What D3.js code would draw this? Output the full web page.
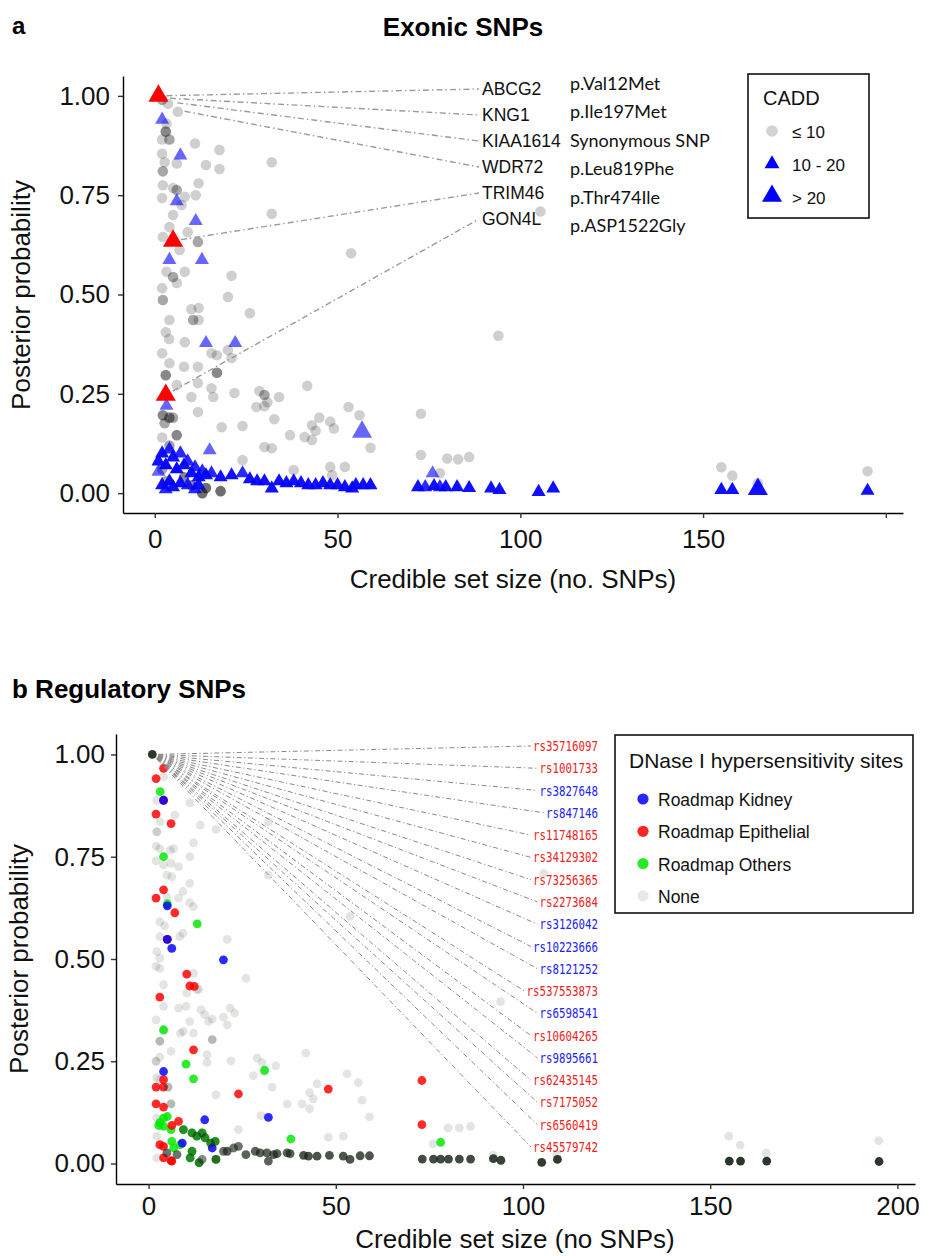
<!DOCTYPE html>
<html>
<head>
<meta charset="utf-8">
<script src="https://cdn.jsdelivr.net/npm/d3@7"></script>
<style>
body { margin: 0; background: #fff; }
text { font-family: "Liberation Sans", Arial, sans-serif; }
</style>
</head>
<body>
<svg width="929" height="1256"></svg>
<script>
// ---- panel a : exonic SNPs   [credible set size, posterior probability, overlapping SNPs]
var caddLow = [
  [3.6,0.98,1],[6.3,0.96,1],[2,0.99,2],[3.2,0.93,1],[3,0.91,3],[4,0.89,2],[2,0.89,1],[11,0.88,1],[17.7,0.864,1],
  [2,0.854,1],[2.7,0.833,1],[6,0.83,1],[14,0.826,1],[17.7,0.816,1],[32,0.833,1],[2.2,0.81,2],[12,0.78,1],
  [2.2,0.775,1],[5,0.768,1],[6,0.763,2],[11.2,0.75,1],[2,0.743,1],[8.2,0.746,1],[7.3,0.725,1],[5,0.70,1],
  [32,0.703,1],[4,0.67,1],[9,0.657,1],[2.2,0.645,1],[6.8,0.612,1],[11.8,0.632,2],[3.2,0.557,1],[8.2,0.557,1],
  [5,0.544,2],[6,0.529,1],[21,0.547,1],[20,0.494,1],[2,0.516,1],[2.2,0.486,2],[26,0.453,1],[10,0.463,1],
  [12,0.466,1],[10.5,0.436,2],[12,0.436,1],[4,0.436,1],[3,0.405,1],[8.2,0.38,1],[3.9,0.388,1],[53.7,0.604,1],
  [105.5,0.709,1],[94,0.396,1],
  [15.5,0.352,1],[17,0.347,1],[20,0.36,1],[2,0.352,1],[4,0.327,1],[8,0.318,1],[11.8,0.318,1],[21,0.34,1],
  [17,0.303,3],[3,0.297,3],[6,0.272,1],[11.8,0.277,1],[15.5,0.264,1],[16,0.242,1],[21.8,0.252,1],[10,0.242,1],
  [41.7,0.27,1],[28.6,0.257,1],[30,0.247,2],[30.8,0.229,1],[34,0.242,1],[27.8,0.217,1],[30,0.219,1],
  [2.2,0.196,3],[4,0.19,3],[5,0.19,2],[2.7,0.176,2],[11.8,0.204,1],[18.3,0.166,1],[24,0.169,1],[32.7,0.186,1],
  [37,0.146,1],[41,0.141,1],[43,0.134,1],[45,0.19,1],[48,0.18,1],[49,0.163,1],[53,0.217,1],[56,0.196,1],
  [43,0.171,1],[44,0.157,1],[59,0.114,1],[30,0.116,1],[32,0.113,1],[72.8,0.20,1],[72.8,0.096,1],[6,0.146,3],
  [2,0.14,1],[4,0.12,2],[24,0.083,1],[38,0.058,1],[48,0.066,1],[52,0.066,1],[48.5,0.045,1],[78,0.05,1],
  [80,0.087,1],[83,0.085,1],[86,0.091,1],[155,0.065,1],[158,0.044,1],[165,0.025,1],[195,0.055,1],
  [13,0.0,4],[14,0.013,4],[18,0.005,4],[2,0.06,2],[3,0.03,2],[8,0.04,3],[10,0.02,3]
];
var caddMid = [
  [2,0.94,1],[7,0.85,1],[6,0.735,1],[11.2,0.685,1],[4,0.587,1],[12.9,0.587,1],[14,0.378,1],[22,0.378,1],
  [3.2,0.22,1],[15,0.108,1],[76,0.05,1],[1,0.054,1],
  [1,0.08,3],[2,0.1,3],[3,0.07,4],[4,0.11,2],[5,0.09,3],[6,0.06,4],[7,0.1,2],[8,0.07,3],[9,0.08,2],[10,0.05,3],
  [11,0.065,2],[12,0.04,3],[13,0.055,2],[14,0.045,3],[2,0.02,3],[3,0.01,2],[4,0.03,3],[5,0.015,3],[7,0.025,3],
  [9,0.02,2],[11,0.01,2],[12,0.02,3],
  [15.5,0.05,2],[18,0.04,3],[21,0.045,3],[24,0.05,2],[26,0.035,3],[28,0.03,3],[30,0.03,3],[32,0.012,3],
  [34,0.03,3],[36,0.025,3],[38,0.03,3],[40,0.025,3],[42,0.02,3],[44,0.02,3],[46,0.025,3],[48,0.02,3],
  [50,0.02,3],[52,0.015,3],[54,0.012,3],[55,0.02,3],[57,0.02,3],[59,0.02,3],[72,0.015,3],[74,0.015,2],
  [76.4,0.018,3],[78,0.015,2],[79.6,0.015,3],[82.7,0.015,3],[86,0.013,3],[92,0.012,3],[94.3,0.008,3],
  [105,0.003,3],[109,0.012,3],[155,0.008,3],[158,0.008,3],[195,0.006,3]
];
var caddHigh = [[56.7,0.154,1],[165,0.01,3]];
var exonicHits = [[1,1.0],[5,0.635],[3,0.247]];

var exonicGenes = ["ABCG2","KNG1","KIAA1614","WDR72","TRIM46","GON4L"];
var exonicEffects = ["p.Val12Met","p.Ile197Met","Synonymous SNP","p.Leu819Phe","p.Thr474Ile","p.ASP1522Gly"];
var exonicSize = [1,2,4,6,5,3];
var exonicPP = [1.0,0.995,0.985,0.965,0.635,0.247];

var caddLegend = ["\u2264 10","10 - 20","> 20"];

// ---- panel b : regulatory SNPs
var dhsNone = [
  [4,0.945,1],[2.2,0.888,1],[11,0.882,1],[3.1,0.835,1],[7,0.852,1],[2.2,0.811,2],[13.8,0.827,1],[18,0.817,1],
  [32,0.835,1],[2,0.776,1],[3,0.77,1],[5.8,0.766,1],[6.7,0.77,1],[12,0.784,1],[2,0.74,1],[4,0.73,1],[6,0.734,1],
  [8,0.726,1],[11,0.75,1],[4.9,0.705,1],[6.2,0.701,1],[32,0.705,1],[11,0.685,1],[4.9,0.652,1],[9.2,0.665,1],
  [8,0.649,1],[11,0.638,1],[12,0.628,1],[3,0.591,1],[4.3,0.581,1],[9.2,0.563,1],[8.3,0.555,1],[3,0.555,1],
  [21,0.548,1],[2.2,0.518,1],[3,0.502,1],[26,0.453,1],[2,0.482,1],[3,0.477,1],[12,0.465,1],[13.4,0.426,1],
  [4,0.437,1],[10.2,0.417,1],[12.9,0.425,1],[53.8,0.604,1],[94,0.396,1],[105.5,0.709,1],
  [4,0.384,1],[8,0.38,1],[10,0.384,1],[14,0.376,1],[15,0.364,1],[17,0.353,1],[16,0.347,1],[20,0.358,1],
  [21.8,0.38,1],[23,0.368,1],[21,0.339,1],[2,0.351,1],[4,0.323,1],[8.5,0.319,1],[9.3,0.323,1],[12,0.319,1],
  [11,0.347,1],[3,0.299,3],[17,0.303,3],[6,0.274,1],[3,0.26,1],[2,0.25,2],[15.6,0.266,1],[15.6,0.247,1],
  [22,0.251,1],[42,0.27,1],[29,0.258,1],[30.3,0.247,1],[34,0.239,1],[28,0.215,1],[30.8,0.225,1],[18,0.168,1],
  [45,0.195,1],[43,0.173,1],[44,0.158,1],[41,0.146,1],[43,0.134,1],[37,0.146,1],[53,0.219,1],[56,0.198,1],
  [57,0.155,1],[59,0.114,1],[33,0.187,1],[30,0.117,1],[24,0.083,1],[48,0.064,1],[52,0.067,1],[80,0.087,1],
  [83,0.087,1],[86,0.091,1],[76,0.048,1],[155,0.067,1],[158,0.045,1],[165,0.026,1],[195,0.056,1],
  [109,0.022,1],[92,0.02,1],[2.2,0.111,1],[2.2,0.067,1],[2.2,0.014,1],[2.2,0.21,1],[3,0.205,1]
];
var dhsKidney = [
  [4,0.888,1],[5,0.63,1],[5,0.548,1],[6.2,0.526,1],[20,0.498,1],[4,0.225,1],[15,0.107,1],[32,0.113,1],
  [17,0.038,1],[9,0.05,1]
];
var dhsEpithelial = [
  [4,0.966,1],[2,0.941,1],[4,0.888,1],[2,0.854,1],[6,0.831,1],[4,0.669,1],[2,0.649,1],[7,0.613,1],[5,0.548,1],
  [10.2,0.463,1],[11,0.434,1],[12.2,0.433,1],[3,0.407,1],[12,0.278,1],[24,0.17,1],[48,0.182,1],[73,0.203,1],
  [73,0.095,1],[2,0.187,1],[4,0.205,1],[4,0.187,1],[2,0.146,1],[4,0.138,1],[8,0.103,1],[6.2,0.093,1],
  [3,0.046,1],[4,0.042,1],[4,0.014,1],[6.2,0.006,1],[6,0.007,1]
];
var dhsOthers = [
  [3.1,0.909,1],[4,0.75,1],[5,0.635,1],[13,0.586,1],[4,0.327,1],[31,0.228,1],[10,0.243,1],[12,0.207,1],
  [38,0.06,1],[78,0.052,1],[3,0.1,1],[4,0.111,1],[5,0.115,1],[6,0.083,1],[4,0.091,1],[2.7,0.093,1],
  [6.2,0.054,1],[6.7,0.038,1],[8.5,0.046,1],[9.3,0.083,1],[11.6,0.075,1],[12.9,0.067,1],[14.3,0.075,1],
  [15.1,0.063,1],[16.6,0.05,1],[17.8,0.054,1],[11.6,0.03,1],[11.1,0.014,1],[13.5,0.002,1],[18,0.01,1]
];
// many SNPs of one credible set sitting on top of each other
var dhsStack = [
  [1,1.0,19],[5.2,0.187,3],[6,0.146,3],[4.9,0.026,8],[7.6,0.022,8],[9.3,0.083,5],[11.6,0.075,5],[12.9,0.067,5],
  [14.3,0.075,5],[15.1,0.063,5],[16.6,0.05,5],[17.8,0.054,5],[11.6,0.03,5],[11.1,0.014,5],[13.5,0.002,6],
  [14.3,0.01,6],[18,0.01,8],[20,0.03,8],[21,0.03,10],[22.7,0.038,8],[24,0.042,8],[26,0.022,10],[28.5,0.03,10],
  [29.8,0.026,10],[31.6,0.026,10],[32,0.006,10],[33.4,0.022,10],[34.3,0.024,10],[37,0.026,10],[37.8,0.024,10],
  [41.4,0.02,12],[42.7,0.018,12],[45,0.018,12],[48.3,0.02,12],[52,0.018,12],[53.8,0.01,12],[56.5,0.019,12],
  [59,0.019,12],[73.1,0.011,14],[76.1,0.011,14],[78,0.011,14],[80.1,0.011,14],[83,0.011,14],[86,0.011,14],
  [92.1,0.012,16],[94.1,0.008,16],[105,0.003,18],[109.2,0.01,18],[155.1,0.006,20],[158.1,0.006,20],
  [165.1,0.006,20],[195.1,0.005,20]
];

var regSnps = ["rs35716097","rs1001733","rs3827648","rs847146","rs11748165","rs34129302","rs73256365",
  "rs2273684","rs3126042","rs10223666","rs8121252","rs537553873","rs6598541","rs10604265","rs9895661",
  "rs62435145","rs7175052","rs6560419","rs45579742"];
var regTissue = ["Epithelial","Epithelial","Kidney","Kidney","Epithelial","Epithelial","Epithelial",
  "Epithelial","Kidney","Kidney","Kidney","Epithelial","Kidney","Epithelial","Kidney",
  "Epithelial","Epithelial","Epithelial","Epithelial"];
var dhsLegend = ["Roadmap Kidney","Roadmap Epithelial","Roadmap Others","None"];

var yTicks = [0, 0.25, 0.5, 0.75, 1];
var xTicks = [0, 50, 100, 150, 200];


var svg = d3.select("svg");

var tissueColor = {Kidney: "#0000ff", Epithelial: "#ff0000", Others: "#00e600", None: "#1a261a"};

function stackOpacity(a, n) { return 1 - Math.pow(1 - a, n); }

var xA = d3.scaleLinear().domain([-8.7, 204.7]).range([123, 903]);
var yA = d3.scaleLinear().domain([-0.05, 1.05]).range([513, 76]);
var xB = d3.scaleLinear().domain([-8.7, 204.7]).range([116, 915]);
var yB = d3.scaleLinear().domain([-0.05, 1.05]).range([1184, 734]);

function drawAxes(x, y, yPad, xPad, xFormat) {
  var gy = svg.append("g").attr("transform", "translate(" + x.range()[0] + ",0)")
    .call(d3.axisLeft(y).tickValues(yTicks).tickFormat(d3.format(".2f")).tickSize(5).tickSizeOuter(0).tickPadding(yPad));
  var gx = svg.append("g").attr("transform", "translate(0," + y.range()[0] + ")")
    .call(d3.axisBottom(x).tickValues(xTicks).tickFormat(xFormat).tickSize(5).tickSizeOuter(0).tickPadding(xPad));
  [gy, gx].forEach(function(g) {
    g.select(".domain").attr("stroke", "#000").attr("stroke-width", 1.4);
    g.selectAll(".tick line").attr("stroke", "#333").attr("stroke-width", 1.4);
    g.selectAll(".tick text").attr("fill", "#111").style("font-size", "26px")
      .style("font-family", "'Liberation Sans', Arial, sans-serif");
  });
}

// ================= panel a =================
svg.append("text").attr("x", 12).attr("y", 34).style("font-size", "24px").style("font-weight", "bold").text("a");
svg.append("text").attr("x", 463).attr("y", 36).attr("text-anchor", "middle")
  .style("font-size", "26px").style("font-weight", "bold").text("Exonic SNPs");

drawAxes(xA, yA, 8, 12, function(d) { return d == 200 ? "" : d; });

svg.append("text").attr("transform", "translate(30,295) rotate(-90)").attr("text-anchor", "middle")
  .style("font-size", "26px").attr("fill", "#111").text("Posterior probability");
svg.append("text").attr("x", 513).attr("y", 588).attr("text-anchor", "middle")
  .style("font-size", "26px").attr("fill", "#111").text("Credible set size (no. SNPs)");

var triSmall = d3.symbol().type(d3.symbolTriangle).size(85);
var triBig = d3.symbol().type(d3.symbolTriangle).size(175);

svg.append("g").selectAll("circle")
  .data(caddLow)
  .enter().append("circle")
    .attr("cx", function(d) { return xA(d[0]); })
    .attr("cy", function(d) { return yA(d[1]); })
    .attr("r", 5.3)
    .attr("fill", "#000")
    .attr("fill-opacity", function(d) { return stackOpacity(0.19, d[2]); });

svg.append("g").selectAll("path")
  .data(caddMid)
  .enter().append("path")
    .attr("d", triSmall)
    .attr("transform", function(d) { return "translate(" + xA(d[0]) + "," + yA(d[1]) + ")"; })
    .attr("fill", "#0000ff")
    .attr("fill-opacity", function(d) { return stackOpacity(0.6, d[2]); });

svg.append("g").selectAll("path")
  .data(caddHigh)
  .enter().append("path")
    .attr("d", triBig)
    .attr("transform", function(d) { return "translate(" + xA(d[0]) + "," + yA(d[1]) + ")"; })
    .attr("fill", "#0000ff")
    .attr("fill-opacity", function(d) { return stackOpacity(0.6, d[2]); });

svg.append("g").selectAll("path")
  .data(exonicHits)
  .enter().append("path")
    .attr("d", triBig)
    .attr("transform", function(d) { return "translate(" + xA(d[0]) + "," + yA(d[1]) + ")"; })
    .attr("fill", "#ff0000");

// gene labels with their connector lines
var geneY = d3.scaleLinear().domain([0, 5]).range([95, 225]);
var effectY = d3.scaleLinear().domain([0, 5]).range([90, 232]);

var labA = svg.append("g");
exonicGenes.forEach(function(g, i) {
  var x0 = xA(exonicSize[i]), y0 = yA(exonicPP[i]);
  var x1 = 479, y1 = geneY(i) - 6;
  var len = Math.sqrt((x1 - x0) * (x1 - x0) + (y1 - y0) * (y1 - y0));
  labA.append("line")
    .attr("x1", x0 + (x1 - x0) * 8 / len).attr("y1", y0 + (y1 - y0) * 8 / len)
    .attr("x2", x1).attr("y2", y1)
    .attr("stroke", "#9a9a9a").attr("stroke-width", 1.4)
    .attr("stroke-dasharray", "6,3,1.5,3");
  labA.append("text").attr("x", 482).attr("y", geneY(i))
    .style("font-size", "17.5px").attr("fill", "#111").text(g);
  labA.append("text").attr("x", 570).attr("y", effectY(i))
    .style("font-size", "18px").style("font-family", "Lato, 'Open Sans', sans-serif")
    .attr("fill", "#111").text(exonicEffects[i]);
});

// CADD legend
var legA = svg.append("g");
legA.append("rect").attr("x", 748).attr("y", 74).attr("width", 121).attr("height", 144)
  .attr("fill", "#fff").attr("stroke", "#111").attr("stroke-width", 1.6);
legA.append("text").attr("x", 763).attr("y", 105).style("font-size", "20px").attr("fill", "#111").text("CADD");
legA.append("circle").attr("cx", 772).attr("cy", 131).attr("r", 5.8).attr("fill", "#d3d3d3");
legA.append("path").attr("d", d3.symbol().type(d3.symbolTriangle).size(97))
  .attr("transform", "translate(772,164)").attr("fill", "#0000ff");
legA.append("path").attr("d", triBig).attr("transform", "translate(772,196)").attr("fill", "#0000ff");
legA.selectAll("text.item")
  .data(caddLegend)
  .enter().append("text")
    .attr("class", "item")
    .attr("x", 792)
    .attr("y", function(d, i) { return 138 + i * 33; })
    .style("font-size", "17px").attr("fill", "#111")
    .text(function(d) { return d; });

// ================= panel b =================
svg.append("text").attr("x", 12).attr("y", 698).style("font-size", "26px").style("font-weight", "bold")
  .text("b Regulatory SNPs");

drawAxes(xB, yB, 6, 8, function(d) { return d; });

svg.append("text").attr("transform", "translate(28,959) rotate(-90)").attr("text-anchor", "middle")
  .style("font-size", "26px").attr("fill", "#111").text("Posterior probability");
svg.append("text").attr("x", 515).attr("y", 1248).attr("text-anchor", "middle")
  .style("font-size", "26px").attr("fill", "#111").text("Credible set size (no SNPs)");

function dots(data, color, alpha) {
  svg.append("g").selectAll("circle")
    .data(data)
    .enter().append("circle")
      .attr("cx", function(d) { return xB(d[0]); })
      .attr("cy", function(d) { return yB(d[1]); })
      .attr("r", 4.4)
      .attr("fill", color)
      .attr("fill-opacity", function(d) { return stackOpacity(alpha, d[2]); });
}
dots(dhsNone, tissueColor.None, 0.12);
dots(dhsOthers, tissueColor.Others, 0.82);
dots(dhsEpithelial, tissueColor.Epithelial, 0.83);
dots(dhsKidney, tissueColor.Kidney, 0.83);
dots(dhsStack, tissueColor.None, 0.12);

// rs labels fanning out from the top left corner
var rsY = d3.scaleLinear().domain([0, regSnps.length - 1]).range([746, 1147]);
var labB = svg.append("g");
regSnps.forEach(function(s, i) {
  var w = s.length * 6.5;
  var x0 = xB(1), y0 = yB(1);
  var x1 = 598 - w - 2, y1 = rsY(i);
  var len = Math.sqrt((x1 - x0) * (x1 - x0) + (y1 - y0) * (y1 - y0));
  labB.append("line")
    .attr("x1", x0 + (x1 - x0) * 6 / len).attr("y1", y0 + (y1 - y0) * 6 / len)
    .attr("x2", x1).attr("y2", y1)
    .attr("stroke", "#8a8a8a").attr("stroke-width", 1)
    .attr("stroke-dasharray", "5,2.5,1.2,2.5");
  labB.append("text").attr("x", 598).attr("y", y1 + 5).attr("text-anchor", "end")
    .attr("textLength", w).attr("lengthAdjust", "spacingAndGlyphs")
    .style("font-family", "'DejaVu Sans Mono', monospace").style("font-size", "14px")
    .attr("fill", regTissue[i] == "Kidney" ? "#2222ee" : "#ee2222")
    .text(s);
});

// DHS legend
var legB = svg.append("g");
legB.append("rect").attr("x", 615).attr("y", 735).attr("width", 298).attr("height", 178)
  .attr("fill", "#fff").attr("stroke", "#111").attr("stroke-width", 1.6);
legB.append("text").attr("x", 629).attr("y", 768).style("font-size", "21px").attr("fill", "#111")
  .text("DNase I hypersensitivity sites");
var legColors = [tissueColor.Kidney, tissueColor.Epithelial, tissueColor.Others, "#d8d8d8"];
var legItem = legB.selectAll("g.item")
  .data(dhsLegend)
  .enter().append("g")
    .attr("transform", function(d, i) { return "translate(643," + (799 + i * 32.3) + ")"; });
legItem.append("circle").attr("r", 5.6)
  .attr("fill", function(d, i) { return legColors[i]; })
  .attr("fill-opacity", function(d, i) { return i == 3 ? 0.6 : 0.85; });
legItem.append("text").attr("x", 15).attr("y", 1).attr("dy", "0.35em")
  .style("font-size", "17.5px").attr("fill", "#111")
  .text(function(d) { return d; });
</script>
</body>
</html>
